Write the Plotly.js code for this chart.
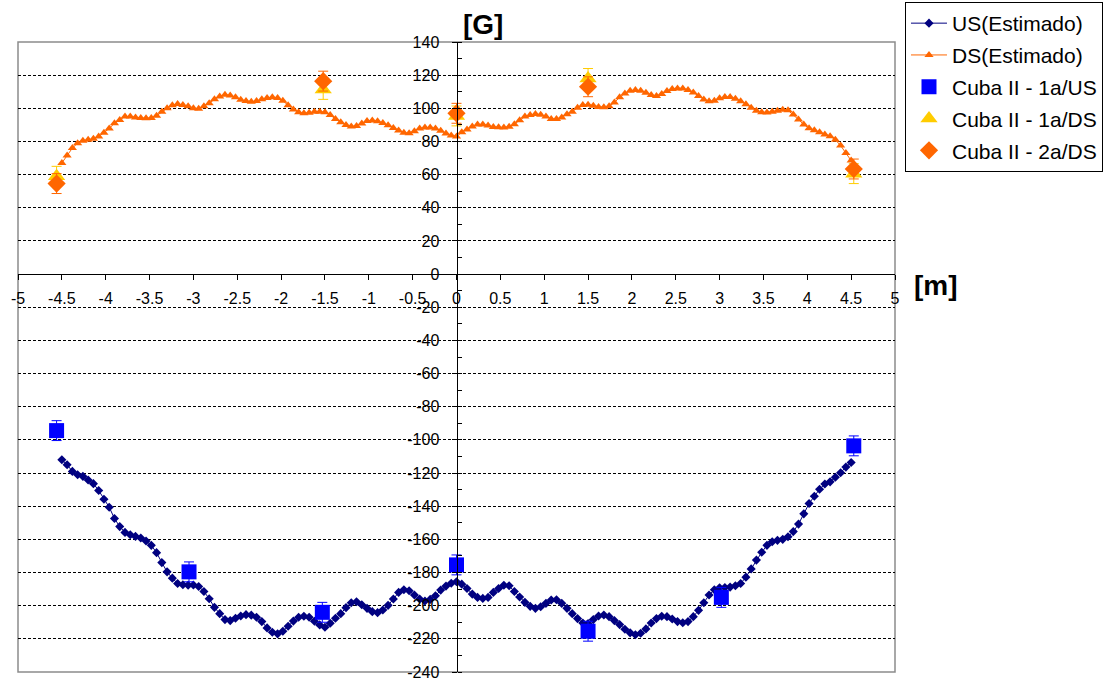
<!DOCTYPE html>
<html>
<head>
<meta charset="utf-8">
<script src="https://cdn.plot.ly/plotly-3.0.1.min.js"></script>
<style>html,body{margin:0;padding:0;background:#fff;}#chart{width:1117px;height:683px;}</style>
</head>
<body>
<div id="chart"></div>
<script>
// Positions along the axis [m]
const positions = [
 -4.5, -4.44, -4.38, -4.32, -4.26, -4.2, -4.14, -4.08, -4.02, -3.96,
 -3.9, -3.84, -3.78, -3.72, -3.66, -3.6, -3.54, -3.48, -3.42, -3.36,
 -3.3, -3.24, -3.18, -3.12, -3.06, -3.0, -2.94, -2.88, -2.82, -2.76,
 -2.7, -2.64, -2.58, -2.52, -2.46, -2.4, -2.34, -2.28, -2.22, -2.16,
 -2.1, -2.04, -1.98, -1.92, -1.86, -1.8, -1.74, -1.68, -1.62, -1.56,
 -1.5, -1.44, -1.38, -1.32, -1.26, -1.2, -1.14, -1.08, -1.02, -0.96,
 -0.9, -0.84, -0.78, -0.72, -0.66, -0.6, -0.54, -0.48, -0.42, -0.36,
 -0.3, -0.24, -0.18, -0.12, -0.06, 0,
 0.06, 0.12, 0.18, 0.24, 0.3, 0.36, 0.42, 0.48, 0.54, 0.6,
 0.66, 0.72, 0.78, 0.84, 0.9, 0.96, 1.02, 1.08, 1.14, 1.2,
 1.26, 1.32, 1.38, 1.44, 1.5, 1.56, 1.62, 1.68, 1.74, 1.8,
 1.86, 1.92, 1.98, 2.04, 2.1, 2.16, 2.22, 2.28, 2.34, 2.4,
 2.46, 2.52, 2.58, 2.64, 2.7, 2.76, 2.82, 2.88, 2.94, 3.0,
 3.06, 3.12, 3.18, 3.24, 3.3, 3.36, 3.42, 3.48, 3.54, 3.6,
 3.66, 3.72, 3.78, 3.84, 3.9, 3.96, 4.02, 4.08, 4.14, 4.2,
 4.26, 4.32, 4.38, 4.44, 4.5
];

// US(Estimado) [G]
const usEstimado = [
 -112, -115, -119, -121, -122, -124.2, -126.4, -130.5, -135.8, -140.6,
 -147.4, -152.3, -155.8, -157.2, -158.2, -159.2, -161, -163.6, -168, -174,
 -179.6, -183.4, -186.6, -187.4, -187.6, -187.5, -188.4, -191.4, -195.8, -201,
 -204.8, -208.4, -209, -207.6, -206.2, -205.4, -205.7, -207, -209.6, -213.4,
 -216, -217, -215.4, -212.4, -209.3, -207, -206.4, -207, -209.4, -211.6,
 -213, -210.6, -207.6, -204.8, -201.2, -198.2, -197.6, -199.4, -201.6, -203.6,
 -204.2, -202.6, -199.8, -196, -192, -190.4, -191, -193.6, -196, -197.2,
 -196.2, -194, -190.6, -188.2, -186.5, -185.6,
 -187, -189.6, -193, -195, -195.6, -195, -192, -189.6, -187.7, -188,
 -191.4, -194.8, -198, -200.4, -201.6, -200.6, -198.6, -196.6, -196.4, -198.6,
 -201.6, -204.8, -207.8, -210.4, -210.8, -208.4, -206.2, -205.6, -206.6, -209,
 -211.4, -214.2, -216.4, -217.5, -216.6, -214, -210.4, -207.8, -206.4, -206.6,
 -208, -209.6, -210.3, -209.6, -206.6, -202.8, -198.2, -193.6, -190.4, -189.2,
 -189, -188.8, -188, -186.6, -182.8, -177.8, -172.5, -167.8, -163.6, -161.4,
 -160.6, -160, -158.4, -155.3, -150.8, -144.6, -138.4, -134, -129.8, -126.6,
 -125.3, -122.5, -119.8, -116.4, -113.6
];

// DS(Estimado) [G]
const dsEstimado = [
 67, 71.5, 76, 79, 80.4, 81, 81.6, 83, 85.2, 87.8,
 91, 93, 95, 95, 94.5, 94.2, 94, 94.2, 95.5, 98,
 100, 101.8, 102.6, 102, 101.2, 100, 99.8, 101.2, 103, 105.4,
 107.2, 108.2, 107.8, 106.6, 105.2, 104.4, 104, 104.4, 105.5, 106.2,
 106.6, 106.2, 104.5, 101.8, 99.3, 97.6, 97, 97.3, 97.9, 98,
 97.6, 96, 93.5, 91.6, 90, 89.1, 89.4, 90.8, 92.3, 92.7,
 92.2, 91.2, 89.8, 88.2, 86.6, 85.2, 85, 86.2, 87.8, 88.4,
 88.4, 87.8, 86.5, 84.8, 83.6, 83,
 85.5, 87.2, 89, 90.2, 90.3, 89.6, 88.8, 88.6, 88.4, 88.9,
 90.4, 92.8, 95, 96, 96.6, 96.1, 95, 93.6, 93.6, 94.5,
 96.4, 98, 100.4, 102, 102.1, 101.6, 100.8, 100.6, 101.2, 103.5,
 106.6, 109, 110.6, 111, 110.6, 109.4, 108, 107.4, 108.6, 110.4,
 111.6, 112, 112, 111.1, 109.6, 107.5, 105.3, 104.2, 104.5, 106,
 106.8, 106.8, 105.8, 104.3, 102.4, 100.4, 98.6, 97.6, 97.5, 98,
 98.6, 99.2, 98.8, 96.2, 93.2, 90.2, 88, 86.8, 85.6, 84.2,
 83.2, 81, 77.5, 73, 68.5
];

// Measurements
const usMeasX = [-4.56, -3.05, -1.53, 0, 1.5, 3.02, 4.53];
const us1a = [-94.4, -179.6, -204, -175.4, -215.4, -195, -103.6];
const us1aErr = [6, 6, 6, 6, 6, 6, 6];

const dsMeasX = [-4.56, -1.52, 0, 1.5, 4.53];
const ds1a = [59, 111.4, 95.4, 118, 60.6];
const ds1aErr = [6, 6, 6, 6, 6];
const ds2a = [54.6, 116.4, 97, 113, 63.4];
const ds2aErr = [6, 6, 6, 6, 6];

const yTicks = [140, 120, 100, 80, 60, 40, 20, 0, -20, -40, -60, -80, -100, -120, -140, -160, -180, -200, -220, -240];
const xTicks = [-5, -4.5, -4, -3.5, -3, -2.5, -2, -1.5, -1, -0.5, 0, 0.5, 1, 1.5, 2, 2.5, 3, 3.5, 4, 4.5, 5];

const FONT = 'Liberation Sans, Arial, sans-serif';

const traces = [
  {x: positions, y: usEstimado, name: 'US(Estimado)', type: 'scatter', mode: 'lines+markers',
   legendgroup: 'g1',
   line: {color: '#000080', width: 1},
   marker: {symbol: 'diamond', size: 7, color: '#000080'}},
  {x: positions, y: dsEstimado, name: 'DS(Estimado)', type: 'scatter', mode: 'lines+markers',
   legendgroup: 'g2',
   line: {color: '#FF6600', width: 1},
   marker: {symbol: 'triangle-up', size: 8, color: '#FF6600'}},
  {x: usMeasX, y: us1a, name: 'Cuba II - 1a/US', type: 'scatter', mode: 'markers',
   legendgroup: 'g3',
   marker: {symbol: 'square', size: 15, color: '#0000FF'},
   error_y: {type: 'data', array: us1aErr, visible: true, color: '#0000FF', thickness: 1, width: 5}},
  {x: dsMeasX, y: ds1a, name: 'Cuba II - 1a/DS', type: 'scatter', mode: 'markers',
   legendgroup: 'g4',
   marker: {symbol: 'triangle-up', size: 15, color: '#FFCC00'},
   error_y: {type: 'data', array: ds1aErr, visible: true, color: '#FFCC00', thickness: 1, width: 5}},
  {x: dsMeasX, y: ds2a, name: 'Cuba II - 2a/DS', type: 'scatter', mode: 'markers',
   legendgroup: 'g5',
   marker: {symbol: 'diamond', size: 14, color: '#FF6600'},
   error_y: {type: 'data', array: ds2aErr, visible: true, color: '#FF6600', thickness: 1, width: 5}}
];

const layout = {
  width: 1117, height: 683,
  margin: {l: 18, r: 222, t: 42, b: 11, pad: 0, autoexpand: false},
  paper_bgcolor: '#ffffff', plot_bgcolor: '#ffffff',
  font: {family: FONT, color: '#000000', size: 15},
  showlegend: true,
  legend: {
    x: 1.0114, y: 1.0635, xanchor: 'left', yanchor: 'top',
    bordercolor: '#000000', borderwidth: 1, bgcolor: '#ffffff',
    font: {family: FONT, size: 21, color: '#000000'},
    traceorder: 'grouped', tracegroupgap: 1.5, itemwidth: 36
  },
  xaxis: {
    range: [-5, 5], autorange: false,
    anchor: 'free', position: 0.63158,
    tickmode: 'array', tickvals: xTicks, ticktext: xTicks.map(String),
    showgrid: false, zeroline: false,
    showline: true, linecolor: '#000000', linewidth: 1,
    ticks: 'outside', ticklen: 5, tickcolor: '#000000', tickwidth: 1,
    ticklabelstandoff: 5,
    tickfont: {family: FONT, size: 16, color: '#000000'}
  },
  yaxis: {
    range: [-240, 140], autorange: false,
    anchor: 'free', position: 0.5,
    tickmode: 'array', tickvals: yTicks, ticktext: yTicks.map(String),
    showgrid: true, gridcolor: '#000000', gridwidth: 1, griddash: '3px,2px',
    zeroline: false,
    showline: true, linecolor: '#000000', linewidth: 1,
    ticks: 'outside', ticklen: 5, tickcolor: '#000000', tickwidth: 1,
    ticklabelstandoff: 9,
    minor: {dtick: 10, ticks: 'inside', ticklen: 4, tickcolor: '#000000', showgrid: false},
    tickfont: {family: FONT, size: 16, color: '#000000'}
  },
  shapes: [
    {type: 'rect', xref: 'paper', yref: 'paper', x0: 0, x1: 1, y0: 0, y1: 1,
     line: {color: '#8c8c8c', width: 1.5}, layer: 'below'}
  ],
  annotations: [
    {text: '<b>[G]</b>', xref: 'paper', yref: 'paper', x: 0.5297, y: 1.0, xanchor: 'center', yanchor: 'bottom',
     showarrow: false, font: {family: FONT, size: 28, color: '#000000'}},
    {text: '<b>[m]</b>', xref: 'paper', yref: 'paper', x: 1.0194, y: 0.6127, xanchor: 'left', yanchor: 'middle',
     showarrow: false, font: {family: FONT, size: 28, color: '#000000'}}
  ]
};

Plotly.newPlot('chart', traces, layout, {displayModeBar: false, staticPlot: true});
</script>
</body>
</html>
